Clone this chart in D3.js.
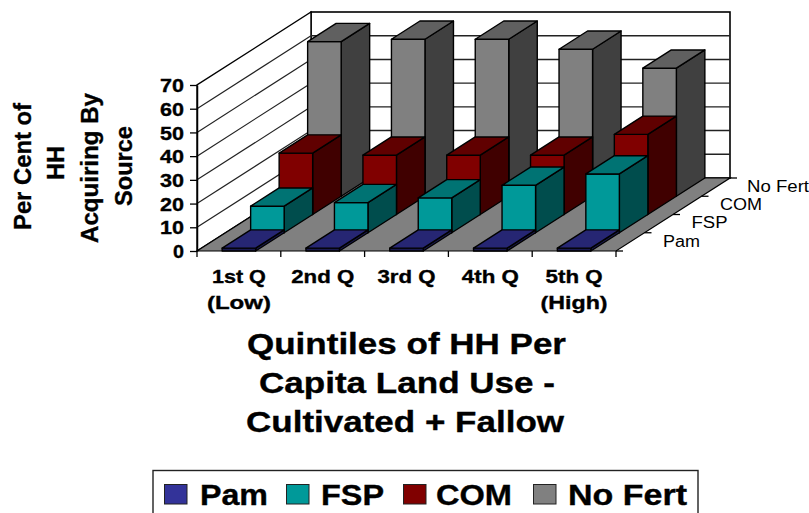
<!DOCTYPE html>
<html><head><meta charset="utf-8">
<script src="https://cdn.jsdelivr.net/npm/d3@7"></script>
<style>
html,body{margin:0;padding:0;background:#fff;overflow:hidden}
svg{display:block}
text{font-family:"Liberation Sans",Arial,sans-serif;fill:#000}
text[font-weight=bold]{stroke:#000;stroke-width:.35}
</style></head><body>
<svg id="c" width="809" height="513"></svg>
<script>
const categories = ["1st Q","2nd Q","3rd Q","4th Q","5th Q"];
const categorySub = ["(Low)","","","","(High)"];
const seriesNames = ["Pam","FSP","COM","No Fert"];
const pam    = [1.2,1.2,1.2,1.2,1.2];
const fsp    = [11.2,12.7,14.7,20,24.8];
const com    = [25.9,25,25,25,33.8];
const noFert = [65.2,66.2,66.2,62,54];
const seriesValues = [pam,fsp,com,noFert];
const colors = ["#333399","#009999","#800000","#808080"];
const yTicks = [0,10,20,30,40,50,60,70];
const yTitle = ["Per Cent of","HH","Acquiring By","Source"];
const xTitle = ["Quintiles of HH Per","Capita Land Use -","Cultivated + Fallow"];

const svg = d3.select("#c");
const x = d3.scaleBand().domain(categories).range([197,616]).paddingInner(0.6).paddingOuter(0.3);
const xEdge = d3.scaleLinear().domain([0,5]).range([197,616]);
const y = d3.scaleLinear().domain([0,70]).range([251,85]);
const dx = d3.scaleLinear().domain([0,4]).range([0,114]);
const dy = d3.scaleLinear().domain([0,4]).range([0,-73]);
const poly = p => p.map(q=>q.join(",")).join(" ");
const ink = "#000";

// walls
const x0 = xEdge(0), x1 = xEdge(5), bx = x0+dx(4), bxr = x1+dx(4), by = dy(4);
svg.append("rect").attr("x",bx).attr("y",y(70)+by).attr("width",bxr-bx).attr("height",y(0)-y(70))
  .attr("fill","#fff").attr("stroke",ink).attr("stroke-width",1.6);
svg.append("polygon").attr("points",poly([[x0,y(0)],[x0,y(70)],[bx,y(70)+by],[bx,y(0)+by]]))
  .attr("fill","#fff").attr("stroke",ink).attr("stroke-width",1.4);
// gridlines
svg.selectAll("line.gb").data(yTicks.slice(1,-1)).join("line").attr("class","gb")
  .attr("x1",bx).attr("x2",bxr).attr("y1",d=>y(d)+by).attr("y2",d=>y(d)+by)
  .attr("stroke","#222").attr("stroke-width",1.4);
svg.selectAll("line.gl").data(yTicks.slice(1,-1)).join("line").attr("class","gl")
  .attr("x1",x0).attr("x2",bx).attr("y1",d=>y(d)).attr("y2",d=>y(d)+by)
  .attr("stroke","#222").attr("stroke-width",1.2);
// floor
svg.append("polygon").attr("points",poly([[x0,y(0)],[x1,y(0)],[bxr,y(0)+by],[bx,y(0)+by]]))
  .attr("fill","#808080").attr("stroke",ink).attr("stroke-width",1.2);

const shade = (c,k)=>{const r=d3.rgb(c);return d3.rgb(r.r*k,r.g*k,r.b*k).formatHex();};
const bw = x.bandwidth();
// bars back to front
for(let s=3;s>=0;s--){
  const g = svg.append("g").attr("class","series");
  const ox=dx(s), oy=dy(s), ddx=dx(1), ddy=dy(1);
  const bars = g.selectAll("g").data(seriesValues[s].map((v,i)=>({v,c:categories[i]}))).join("g");
  bars.append("polygon").attr("points",d=>{const l=x(d.c)+ox+bw,b=y(0)+oy,t=y(d.v)+oy;
      return poly([[l,b],[l+ddx,b+ddy],[l+ddx,t+ddy],[l,t]]);})
    .attr("fill",shade(colors[s],0.5));
  bars.append("rect").attr("x",d=>x(d.c)+ox).attr("y",d=>y(d.v)+oy).attr("width",bw).attr("height",d=>y(0)-y(d.v))
    .attr("fill",s===0?shade(colors[s],0.5):colors[s]);
  bars.append("polygon").attr("points",d=>{const l=x(d.c)+ox,t=y(d.v)+oy;
      return poly([[l,t],[l+bw,t],[l+bw+ddx,t+ddy],[l+ddx,t+ddy]]);})
    .attr("fill",shade(colors[s],0.75));
  bars.selectAll("polygon,rect").attr("stroke",ink).attr("stroke-width",1.4).attr("stroke-linejoin","round");
}

// y axis
const ax = svg.append("g").attr("transform",`translate(${x0},0)`)
  .call(d3.axisLeft(y).tickValues(yTicks).tickSize(7).tickPadding(6).tickSizeOuter(0));
ax.select(".domain").attr("stroke",ink).attr("stroke-width",1.5);
ax.selectAll(".tick line").attr("stroke",ink).attr("stroke-width",1.3);
ax.selectAll("text").attr("font-size",19).attr("font-weight","bold").attr("font-family",null)
  .style("fill","#000").attr("dy","6.7")
  .attr("textLength",d=>d===0?11:24).attr("lengthAdjust","spacingAndGlyphs");

// x axis
const ax2 = svg.append("g").attr("transform",`translate(0,${y(0)})`);
ax2.selectAll("line").data(d3.range(6)).join("line")
  .attr("x1",d=>xEdge(d)).attr("x2",d=>xEdge(d)).attr("y1",0).attr("y2",6)
  .attr("stroke",ink).attr("stroke-width",1.3);
const xLabelLen = [54,63,58,57,57], xSubLen = [64,0,0,0,67];
categories.forEach((c,i)=>{
  const mid = x(c)+bw/2;
  svg.append("text").attr("x",mid).attr("y",283).attr("text-anchor","middle")
    .attr("font-size",18.5).attr("font-weight","bold").text(c)
    .attr("textLength",xLabelLen[i]).attr("lengthAdjust","spacingAndGlyphs");
  if(categorySub[i]) svg.append("text").attr("x",mid).attr("y",309).attr("text-anchor","middle")
    .attr("font-size",18.5).attr("font-weight","bold").text(categorySub[i])
    .attr("textLength",xSubLen[i]).attr("lengthAdjust","spacingAndGlyphs");
});

// depth axis
svg.selectAll("line.dt").data(d3.range(5)).join("line").attr("class","dt")
  .attr("x1",d=>x1+dx(d)).attr("x2",d=>x1+dx(d)+7).attr("y1",d=>y(0)+dy(d)).attr("y2",d=>y(0)+dy(d))
  .attr("stroke",ink).attr("stroke-width",1.3);
const depthLen=[37,36,42,62];
const depthStart=[47,47,47,45.5];
seriesNames.forEach((n,i)=>{
  svg.append("text").attr("x",x1+dx(i)+depthStart[i]).attr("y",y(0)+dy(i)-4.5)
    .attr("font-size",16).text(n)
    .attr("textLength",depthLen[i]).attr("lengthAdjust","spacingAndGlyphs");
});

// y title
const yPos=[{b:30.7,c:166.5,l:127},{b:64,c:163,l:34},{b:98,c:168,l:150},{b:131.7,c:166,l:80}];
yTitle.forEach((t,i)=>{
  svg.append("text").attr("transform",`translate(${yPos[i].b},${yPos[i].c}) rotate(-90)`)
    .attr("text-anchor","middle").attr("font-size",23).attr("font-weight","bold").text(t)
    .attr("textLength",yPos[i].l).attr("lengthAdjust","spacingAndGlyphs");
});

// x title
const tPos=[{m:406.5,b:354,l:319},{m:407,b:393,l:296},{m:405,b:432,l:318}];
xTitle.forEach((t,i)=>{
  svg.append("text").attr("x",tPos[i].m).attr("y",tPos[i].b).attr("text-anchor","middle")
    .attr("font-size",30).attr("font-weight","bold").text(t)
    .attr("textLength",tPos[i].l).attr("lengthAdjust","spacingAndGlyphs");
});

// legend
svg.append("rect").attr("x",153).attr("y",470.5).attr("width",545).attr("height",60)
  .attr("fill","#fff").attr("stroke","#222").attr("stroke-width",1.4);
const legX=[{s:164,t:200,l:68},{s:286,t:321,l:63},{s:403,t:436,l:76},{s:533,t:568,l:119}];
seriesNames.forEach((n,i)=>{
  svg.append("rect").attr("x",legX[i].s+.5).attr("y",484.5).attr("width",22.5).attr("height",19.5)
    .attr("fill",colors[i]).attr("stroke","#222").attr("stroke-width",1);
  svg.append("text").attr("x",legX[i].t).attr("y",504.5).attr("font-size",29).attr("font-weight","bold").text(n)
    .attr("textLength",legX[i].l).attr("lengthAdjust","spacingAndGlyphs");
});
</script>
</body></html>
